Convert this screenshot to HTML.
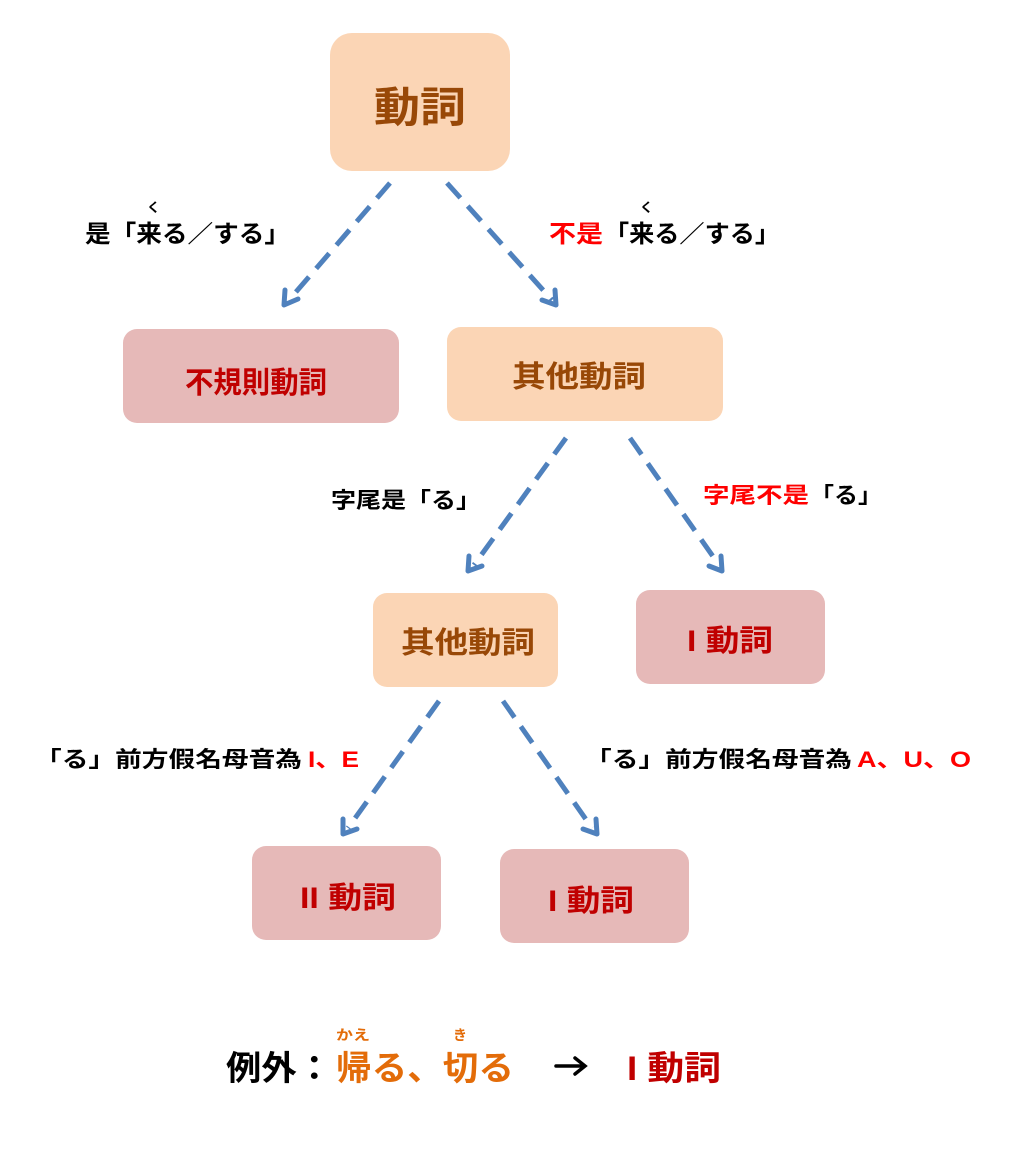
<!DOCTYPE html>
<html><head><meta charset="utf-8"><style>
html,body{margin:0;padding:0;background:#fff;}
svg{display:block;}
text{font-family:"Liberation Sans","Noto Sans CJK JP",sans-serif;font-weight:bold;}
</style></head><body>
<svg width="1017" height="1160" viewBox="0 0 1017 1160" xmlns="http://www.w3.org/2000/svg">
<!-- boxes -->
<rect x="330" y="33" width="180" height="138" rx="22" fill="#FBD5B5"/>
<rect x="123" y="329" width="276" height="94" rx="14" fill="#E6B9B8"/>
<rect x="447" y="327" width="276" height="94" rx="14" fill="#FBD5B5"/>
<rect x="373" y="593" width="185" height="94" rx="14" fill="#FBD5B5"/>
<rect x="636" y="590" width="189" height="94" rx="14" fill="#E6B9B8"/>
<rect x="252" y="846" width="189" height="94" rx="14" fill="#E6B9B8"/>
<rect x="500" y="849" width="189" height="94" rx="14" fill="#E6B9B8"/>

<text x="420" y="122" font-size="42" fill="#984807" text-anchor="middle" textLength="92" lengthAdjust="spacingAndGlyphs">動詞</text>
<text x="256" y="393" font-size="30" fill="#C00000" text-anchor="middle" textLength="142" lengthAdjust="spacingAndGlyphs">不規則動詞</text>
<text x="579" y="387" font-size="30" fill="#984807" text-anchor="middle" textLength="134" lengthAdjust="spacingAndGlyphs">其他動詞</text>
<text x="468" y="653" font-size="30" fill="#984807" text-anchor="middle" textLength="134" lengthAdjust="spacingAndGlyphs">其他動詞</text>
<text x="730" y="651" font-size="30" fill="#C00000" text-anchor="middle" textLength="86" lengthAdjust="spacingAndGlyphs">I 動詞</text>
<text x="348" y="908" font-size="30" fill="#C00000" text-anchor="middle" textLength="96" lengthAdjust="spacingAndGlyphs">II 動詞</text>
<text x="591" y="911" font-size="30" fill="#C00000" text-anchor="middle" textLength="86" lengthAdjust="spacingAndGlyphs">I 動詞</text>

<!-- arrows -->
<g stroke="#4F81BD" stroke-width="5" stroke-dasharray="20 11" fill="none">
<line x1="390" y1="183" x2="289" y2="300"/>
<line x1="447" y1="183" x2="552" y2="300"/>
<line x1="566" y1="438" x2="474" y2="565"/>
<line x1="630" y1="438" x2="719" y2="565"/>
<line x1="439" y1="701" x2="348" y2="828"/>
<line x1="503" y1="701" x2="592" y2="828"/>
</g>
<g stroke="#4F81BD" stroke-width="5" fill="none" stroke-linecap="round" stroke-linejoin="round">
<polyline points="285,290 284,305 298,299"/>
<polyline points="542,300 556,305 555,290"/>
<polyline points="469,556 468,571 482,566"/>
<polyline points="709,566 722,571 721,556"/>
<polyline points="343,819 343,834 357,829"/>
<polyline points="583,829 597,834 596,819"/>
</g>

<!-- labels -->
<text x="85" y="242" font-size="24" fill="#000" textLength="205" lengthAdjust="spacingAndGlyphs">是「来る／する」</text>
<text x="147" y="212" font-size="13" fill="#000">く</text>
<text x="549" y="242" font-size="24" fill="#FF0000" textLength="54" lengthAdjust="spacingAndGlyphs">不是</text>
<text x="604" y="242" font-size="24" fill="#000" textLength="176" lengthAdjust="spacingAndGlyphs">「来る／する」</text>
<text x="640" y="212" font-size="13" fill="#000">く</text>

<text x="331" y="508" font-size="22" fill="#000" textLength="150" lengthAdjust="spacingAndGlyphs">字尾是「る」</text>
<text x="703" y="503" font-size="22" fill="#FF0000" textLength="106" lengthAdjust="spacingAndGlyphs">字尾不是</text>
<text x="810" y="503" font-size="22" fill="#000" textLength="72" lengthAdjust="spacingAndGlyphs">「る」</text>

<text x="35" y="767" font-size="22" fill="#000" textLength="267" lengthAdjust="spacingAndGlyphs">「る」前方假名母音為</text>
<text x="308" y="767" font-size="22" fill="#FF0000" textLength="51" lengthAdjust="spacingAndGlyphs">I、E</text>
<text x="585" y="767" font-size="22" fill="#000" textLength="267" lengthAdjust="spacingAndGlyphs">「る」前方假名母音為</text>
<text x="857" y="767" font-size="22" fill="#FF0000" textLength="114" lengthAdjust="spacingAndGlyphs">A、U、O</text>

<!-- exception -->
<text x="226" y="1080" font-size="34" fill="#000" textLength="106" lengthAdjust="spacingAndGlyphs">例外：</text>
<text x="336" y="1080" font-size="34" fill="#E36C09" textLength="178" lengthAdjust="spacingAndGlyphs">帰る、切る</text>
<text x="336" y="1040" font-size="14" fill="#E36C09" textLength="34" lengthAdjust="spacingAndGlyphs">かえ</text>
<text x="453" y="1040" font-size="14" fill="#E36C09">き</text>
<g stroke="#000" stroke-width="3.5" fill="none" stroke-linecap="round">
<line x1="556" y1="1066" x2="584" y2="1066"/>
<polyline points="575,1058 585,1066 575,1074"/>
</g>
<text x="627" y="1080" font-size="34" fill="#C00000" textLength="94" lengthAdjust="spacingAndGlyphs">I 動詞</text>
</svg>
</body></html>
